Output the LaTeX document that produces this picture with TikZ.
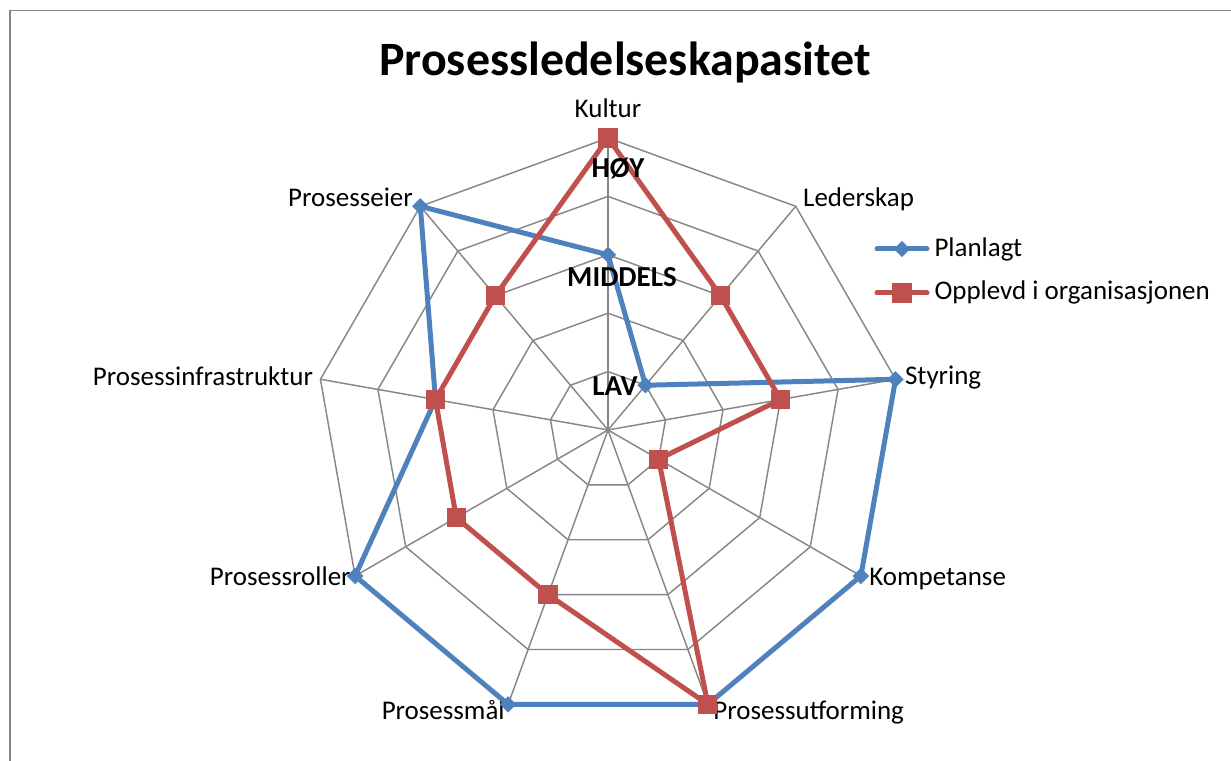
\documentclass[tikz,border=0pt]{standalone}
\usepackage{fontspec}
\setmainfont{Carlito}
\usetikzlibrary{shapes.geometric}
\definecolor{gridgray}{RGB}{134,134,134}
\definecolor{planblue}{RGB}{79,129,189}
\definecolor{oppred}{RGB}{192,80,77}
\tikzset{x=0.38pt,y=0.38pt,
  ring/.style={draw=gridgray,line width=0.55pt},
  series/.style={line width=1.9pt,line join=round,line cap=round},
  planmark/.style={diamond,fill=planblue,inner sep=0pt,minimum width=6.4pt,minimum height=6.4pt},
  oppmark/.style={rectangle,fill=oppred,inner sep=0pt,minimum size=7.3pt},
  axlabel/.style={inner sep=0pt,font=\fontsize{10.25}{12}\selectfont},
  level/.style={inner sep=0pt,font=\fontsize{11}{13}\selectfont\bfseries}}

\begin{document}
\begin{tikzpicture}
  \useasboundingbox (0,0) rectangle (1231,761);
  \coordinate (fa) at (10,0);
  \coordinate (fb) at (10,750.5);
  \coordinate (fc) at (1231,750.5);
  \draw[gridgray,line width=0.55pt] (fa) -- (fb) -- (fc);

  \node[anchor=base,inner sep=0pt,font=\fontsize{18.2}{22}\selectfont\bfseries] (title) at (625,685) {Prosessledelseskapasitet};

  \begin{scope}[shift={(608,331)}]
    % grid
    \foreach \r in {1,...,5}
      \draw[ring] (90:58.4*\r) \foreach \a in {50,10,...,-230} {-- (\a:58.4*\r)} -- cycle;
    \foreach \name/\anc/\dx/\dy [count=\i] in {Kultur/base/0/20, Lederskap/base west/7/0,
        Styring/base west/9/-5, Kompetanse/base west/8/-10, Prosessutforming/base west/5/-15,
        Prosessmål/base east/-3/-15, Prosessroller/base east/-4/-10,
        Prosessinfrastruktur/base east/-7/-6, Prosesseier/base east/-7/0}
    {
      \coordinate (ax\i) at ({130-40*\i}:292);
      \draw[ring] (0,0) -- (ax\i);
      \node[axlabel,anchor=\anc] (lab\i) at ([shift={(\dx,\dy)}]ax\i) {\name};
    }

    % data
    \foreach \v [count=\i] in {3,1,5,5,5,5,5,3,5}
      \coordinate (pl\i) at ({130-40*\i}:58.4*\v);
    \foreach \v [count=\i] in {5,3,3,1,5,3,3,3,3}
      \coordinate (op\i) at ({130-40*\i}:58.4*\v);

    \draw[series,planblue] (pl1) \foreach \i in {2,...,9} {-- (pl\i)} -- cycle;
    \foreach \i in {1,...,9}
      \node[planmark] (plm\i) at (pl\i) {};
    \draw[series,oppred] (op1) \foreach \i in {2,...,9} {-- (op\i)} -- cycle;
    \foreach \i in {1,...,9}
      \node[oppmark] (opm\i) at (op\i) {};
  \end{scope}

  \node[level,anchor=base] (hoy) at (618,583) {HØY};
  \node[level,anchor=base] (middels) at (622,474) {MIDDELS};
  \node[level,anchor=base] (lav) at (615,365) {LAV};

  % legend
  \coordinate (lgpa) at (877,512);
  \coordinate (lgpb) at (927,512);
  \draw[series,planblue] (lgpa) -- (lgpb);
  \node[planmark] (lgpm) at (902,512) {};
  \node[axlabel,anchor=base west] (lgpt) at (934,504) {Planlagt};

  \coordinate (lgoa) at (877,468);
  \coordinate (lgob) at (927,468);
  \draw[series,oppred] (lgoa) -- (lgob);
  \node[oppmark] (lgom) at (902,468) {};
  \node[axlabel,anchor=base west] (lgot) at (934,461) {Opplevd i organisasjonen};
\end{tikzpicture}
\end{document}
